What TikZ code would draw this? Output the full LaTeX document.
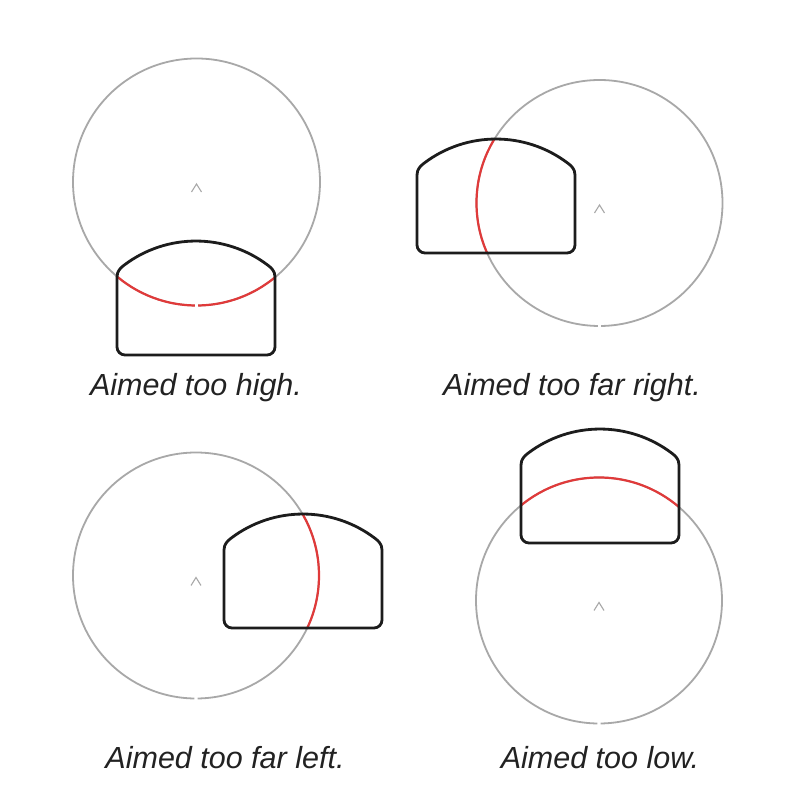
\documentclass[tikz,border=0pt]{standalone}
\usepackage{fontspec}
\setmainfont{Liberation Sans}
\definecolor{circgray}{HTML}{A8A8A8}
\definecolor{winblack}{HTML}{1C1C1C}
\definecolor{hitred}{HTML}{E03A3A}
\definecolor{capgray}{HTML}{222222}
\newcommand\winpath{(0,8) -- (0,78) .. controls (0,84) and (3.8,87.3) .. (7,89.75) arc[start angle=127.2, end angle=52.8, radius=119pt] .. controls (154.2,87.3) and (158,84) .. (158,78) -- (158,8) arc[start angle=0, end angle=-90, radius=8pt] -- (8,0) arc[start angle=270, end angle=180, radius=8pt] -- cycle}
\tikzset{
  circ/.style={draw=circgray, line width=1.8pt},
  hit/.style={draw=hitred, line width=2.2pt},
  win/.style={draw=winblack, line width=2.8pt, line join=round},
  caretline/.style={draw=circgray, line width=1.1pt},
  captext/.style={anchor=base, text=capgray, inner sep=0pt, font=\itshape\fontsize{30.5}{36}\selectfont}
}
\begin{document}
\begin{tikzpicture}[x=1pt,y=1pt]
\useasboundingbox (0,0) rectangle (806,798);
\fill[white] (0,0) rectangle (806,798);
% centres
\coordinate (c1) at (196.5,616);
\coordinate (c2) at (599.5,595);
\coordinate (c3) at (196,222.5);
\coordinate (c4) at (599,197.5);
% ---- panel 1: too high
\draw[circ] (c1) ++(-89.2:123.5pt) arc[start angle=-89.2, end angle=269.2, radius=123.5pt];
\begin{scope}
  \clip[shift={(117,443)}] \winpath;
  \draw[hit] (c1) ++(-89.2:123.5pt) arc[start angle=-89.2, end angle=269.2, radius=123.5pt];
\end{scope}
\draw[win, shift={(117,443)}] \winpath;
\draw[caretline] (c1) ++(-5,-10) -- ++(5,8) -- ++(5,-8);
\node[captext] (t1) at (196,402) {Aimed too high.};
% ---- panel 2: too far right
\draw[circ] (c2) ++(-89.2:123pt) arc[start angle=-89.2, end angle=269.2, radius=123pt];
\begin{scope}
  \clip[shift={(417,545)}] \winpath;
  \draw[hit] (c2) ++(-89.2:123pt) arc[start angle=-89.2, end angle=269.2, radius=123pt];
\end{scope}
\draw[win, shift={(417,545)}] \winpath;
\draw[caretline] (c2) ++(-5,-10) -- ++(5,8) -- ++(5,-8);
\node[captext] (t2) at (572,402) {Aimed too far right.};
% ---- panel 3: too far left
\draw[circ] (c3) ++(-89.2:123pt) arc[start angle=-89.2, end angle=269.2, radius=123pt];
\begin{scope}
  \clip[shift={(224,170)}] \winpath;
  \draw[hit] (c3) ++(-89.2:123pt) arc[start angle=-89.2, end angle=269.2, radius=123pt];
\end{scope}
\draw[win, shift={(224,170)}] \winpath;
\draw[caretline] (c3) ++(-5,-10) -- ++(5,8) -- ++(5,-8);
\node[captext] (t3) at (225,29) {Aimed too far left.};
% ---- panel 4: too low
\draw[circ] (c4) ++(-89.2:123pt) arc[start angle=-89.2, end angle=269.2, radius=123pt];
\begin{scope}
  \clip[shift={(521,255)}] \winpath;
  \draw[hit] (c4) ++(-89.2:123pt) arc[start angle=-89.2, end angle=269.2, radius=123pt];
\end{scope}
\draw[win, shift={(521,255)}] \winpath;
\draw[caretline] (c4) ++(-5,-10) -- ++(5,8) -- ++(5,-8);
\node[captext] (t4) at (600,29) {Aimed too low.};
\end{tikzpicture}
\end{document}
